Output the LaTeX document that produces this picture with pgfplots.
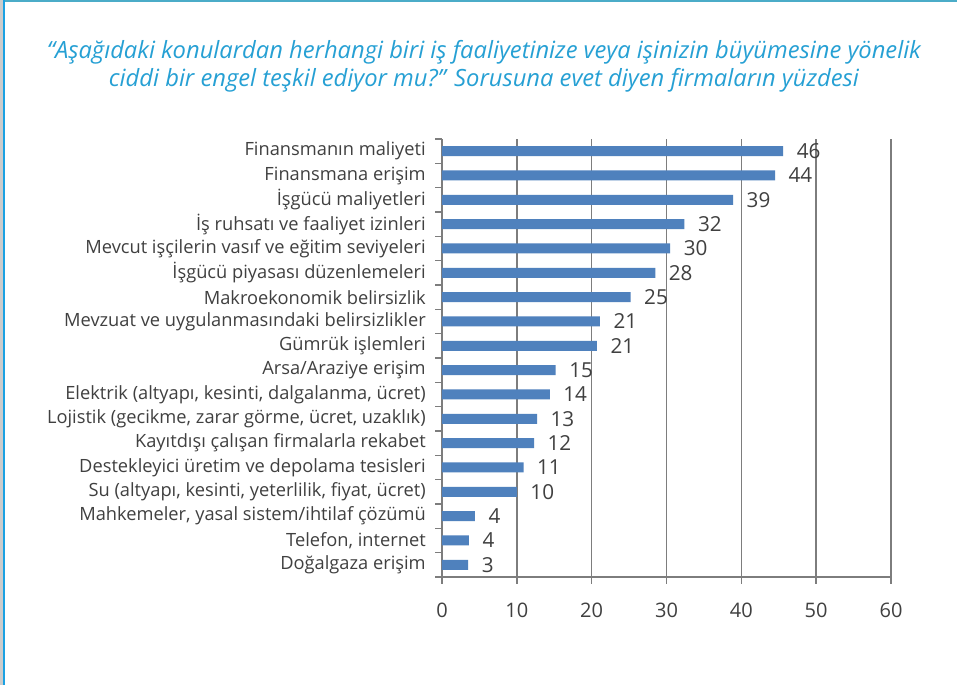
\documentclass[border=0pt]{standalone}
\usepackage{fontspec}
\setmainfont{Open Sans}
\usepackage{pgfplots}
\usepackage{pgfplotstable}
\pgfplotsset{compat=1.18}
\definecolor{barblue}{RGB}{79,129,189}
\definecolor{titlecyan}{RGB}{38,160,212}
\definecolor{txtgray}{RGB}{64,64,64}
\definecolor{gridgray}{RGB}{125,125,125}
\definecolor{topline}{RGB}{75,172,200}
\definecolor{leftline}{RGB}{27,161,226}
\pgfplotstableread{
y v l
17 45.6 46
16 44.5 44
15 38.9 39
14 32.4 32
13 30.5 30
12 28.5 28
11 25.2 25
10 21.1 21
9 20.7 21
8 15.2 15
7 14.4 14
6 12.7 13
5 12.3 12
4 10.9 11
3 10.0 10
2 4.4 4
1 3.6 4
0 3.5 3
}\datatable
\begin{document}
\begin{tikzpicture}
\path[use as bounding box] (0pt,0pt) rectangle (717.75pt,513.75pt);
\fill[white] (0pt,0pt) rectangle (717.75pt,513.75pt);
\fill[topline] (0pt,512.25pt) rectangle (717.75pt,513.75pt);
\fill[black!20] (0pt,0pt) rectangle (2.25pt,513.75pt);
\fill[leftline] (2.25pt,0pt) rectangle (3.75pt,513.75pt);
\node[anchor=base, font=\fontsize{17.8}{20}\selectfont\itshape, text=titlecyan, inner sep=0pt] at (363pt,470pt) {“Aşağıdaki konulardan herhangi biri iş faaliyetinize veya işinizin büyümesine yönelik};
\node[anchor=base, font=\fontsize{17.8}{20}\selectfont\itshape, text=titlecyan, inner sep=0pt] at (363pt,449pt) {ciddi bir engel teşkil ediyor mu?” Sorusuna evet diyen firmaların yüzdesi};
\begin{axis}[
  at={(331.5pt,81pt)}, anchor=south west,
  scale only axis, width=336.75pt, height=328.5pt,
  xmin=0, xmax=60, ymin=-0.5, ymax=17.5,
  xbar, bar width=7.5pt,
  axis lines*=left,
  axis line style={gridgray, line width=1.2pt},
  xtick={0,10,...,60},
  ytick={0,...,17},
  yticklabels={Doğalgaza erişim, Telefon{,} internet, Mahkemeler{,} yasal sistem/ihtilaf çözümü, Su (altyapı{,} kesinti{,} yeterlilik{,} fiyat{,} ücret), Destekleyici üretim ve depolama tesisleri, Kayıtdışı çalışan firmalarla rekabet, Lojistik (gecikme{,} zarar görme{,} ücret{,} uzaklık), Elektrik (altyapı{,} kesinti{,} dalgalanma{,} ücret), Arsa/Araziye erişim, Gümrük işlemleri, Mevzuat ve uygulanmasındaki belirsizlikler, Makroekonomik belirsizlik, İşgücü piyasası düzenlemeleri, Mevcut işçilerin vasıf ve eğitim seviyeleri, İş ruhsatı ve faaliyet izinleri, İşgücü maliyetleri, Finansmana erişim, Finansmanın maliyeti},
  minor ytick={-0.5,0.5,...,17.5},
  tick align=outside,
  major tick length=5pt, minor tick length=5pt,
  major y tick style={draw=none},
  minor y tick style={gridgray, line width=1.2pt},
  major x tick style={gridgray, line width=1.2pt},
  xmajorgrids,
  grid style={gridgray, line width=1.2pt},
  /pgf/number format/assume math mode=true,
  xticklabel style={font=\fontsize{15}{17}\selectfont, text=txtgray, inner sep=0pt, anchor=north, yshift=-14pt},
  yticklabel style={font=\fontsize{13.7}{16}\selectfont, text=txtgray, inner sep=0pt, anchor=east, xshift=-7pt},
  point meta=explicit,
  nodes near coords,
  nodes near coords style={font=\fontsize{15.5}{18}\selectfont, text=txtgray, inner sep=0pt, anchor=west, xshift=10pt},
  clip=false,
]
\addplot[fill=barblue, draw=none] table[x=v, y=y, meta=l] {\datatable};
\end{axis}
\end{tikzpicture}
\end{document}
